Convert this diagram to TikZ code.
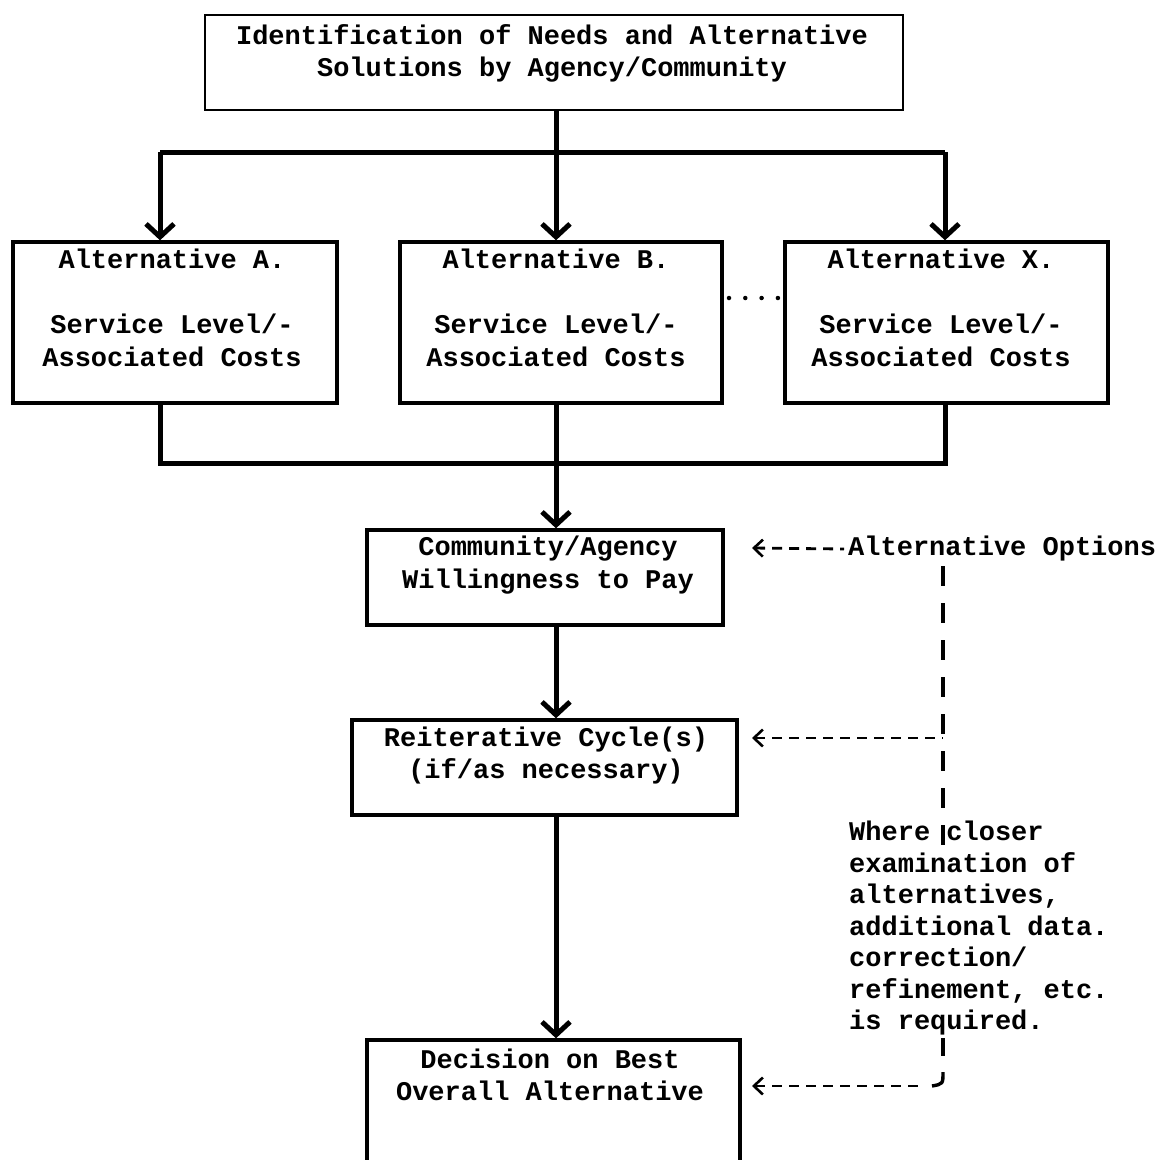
\documentclass[tikz,border=0pt]{standalone}
\usepackage{fontspec}
\setmainfont{Liberation Mono}
\usetikzlibrary{arrows.meta,calc}
\begin{document}
\begin{tikzpicture}[x=1pt,y=-1pt,
  box/.style={draw, line width=3.4pt, inner sep=0pt},
  txt/.style={align=center, font=\fontsize{27}{32.5}\selectfont\bfseries, inner sep=0pt},
  link/.style={line width=5pt},
  flow/.style={line width=5pt, -{Straight Barb[length=13pt,width=28pt]}},
  dashlink/.style={line width=2.8pt, dash pattern=on 10pt off 7pt, {Straight Barb[length=9pt,width=17pt,line width=2.6pt]}-},
  vdash/.style={line width=4pt, dash pattern=on 20pt off 17pt},
  dots/.style={line width=4.5pt, line cap=round, dash pattern=on 0pt off 16.3pt}]
\useasboundingbox (0,0) rectangle (1158,1160);
\clip (0,0) rectangle (1158,1160);

% boxes
\node[box, line width=2.6pt, minimum width=698pt, minimum height=95pt] (need) at (554,62.5) {};
\node[box, minimum width=324pt, minimum height=161pt] (A) at (175,322.5) {};
\node[box, minimum width=322pt, minimum height=161pt] (B) at (561,322.5) {};
\node[box, minimum width=323pt, minimum height=161pt] (X) at (946.5,322.5) {};
\node[box, minimum width=356pt, minimum height=95pt] (C) at (545,577.5) {};
\node[box, minimum width=385pt, minimum height=95pt] (R) at (544.5,767.5) {};
\node[box, minimum width=373pt, minimum height=150pt] (D) at (553.5,1115) {};

% box texts
\node[txt] (needT) at (552,53.5) {Identification of Needs and Alternative\\Solutions by Agency/Community};
\node[txt] (AT) at (172,308) {Alternative A.\\[32.5pt]Service Level/-\\Associated Costs};
\node[txt] (BT) at (556,308) {Alternative B.\\[32.5pt]Service Level/-\\Associated Costs};
\node[txt] (XT) at (941,308) {Alternative X.\\[32.5pt]Service Level/-\\Associated Costs};
\node[txt] (CT) at (548,565) {Community/Agency\\Willingness to Pay};
\node[txt] (RT) at (546,755.5) {Reiterative Cycle(s)\\(if/as necessary)};
\node[txt] (DT) at (550,1075) {Decision on Best\\Overall Alternative};

% side texts
\node[txt, anchor=west] (opts) at (848,549) {Alternative Options};
\node[txt, align=left, anchor=north west, font=\fontsize{27}{31.5}\selectfont\bfseries] (where) at (849,821)
  {Where closer\\examination of\\alternatives,\\additional data.\\correction/\\refinement, etc.\\is required.};

% main flow
\coordinate (s) at (556,152);
\coordinate (sl) at (160,152);
\coordinate (sr) at (945,152);
\coordinate (m) at (556,463);
\coordinate (ml) at (160,463);
\coordinate (mr) at (945,463);
\draw[link] (need.south -| s) -- (s);
\draw[link] (sl) -- (sr);
\draw[flow] (sl) -- (sl |- A.north);
\draw[flow] (s) -- (s |- B.north);
\draw[flow] (sr) -- (sr |- X.north);
\draw[link] (ml |- A.south) -- (ml) -- (mr) -- (mr |- X.south);
\draw[flow] (m |- B.south) -- (m |- C.north);
\draw[flow] (m |- C.south) -- (m |- R.north);
\draw[flow] (m |- R.south) -- (m |- D.north);

% dotted between B and X
\coordinate (d1) at (729,298);
\coordinate (d2) at (781,298);
\draw[dots] (d1) -- (d2);

% feedback dashed lines
\coordinate (v1) at (943,566);
\coordinate (vj) at (943,738);
\coordinate (v2) at (943,845);
\coordinate (v3) at (943,1038);
\coordinate (vb) at (943,1072);
\coordinate (tC) at (752,548);
\coordinate (tR) at (752,738);
\coordinate (tD) at (752,1086);
\draw[dashlink] (tC) -- ($(opts.west)+(-4,0)$);
\draw[vdash] (v1) -- (v2);
\draw[dashlink] (tR) -- (vj);
\draw[line width=4pt] (v3) -- (943,1056);
\draw[line width=3.4pt] (vb) .. controls (943,1084) .. (932,1086);
\draw[dashlink] (tD) -- (924,1086);
\end{tikzpicture}
\end{document}
